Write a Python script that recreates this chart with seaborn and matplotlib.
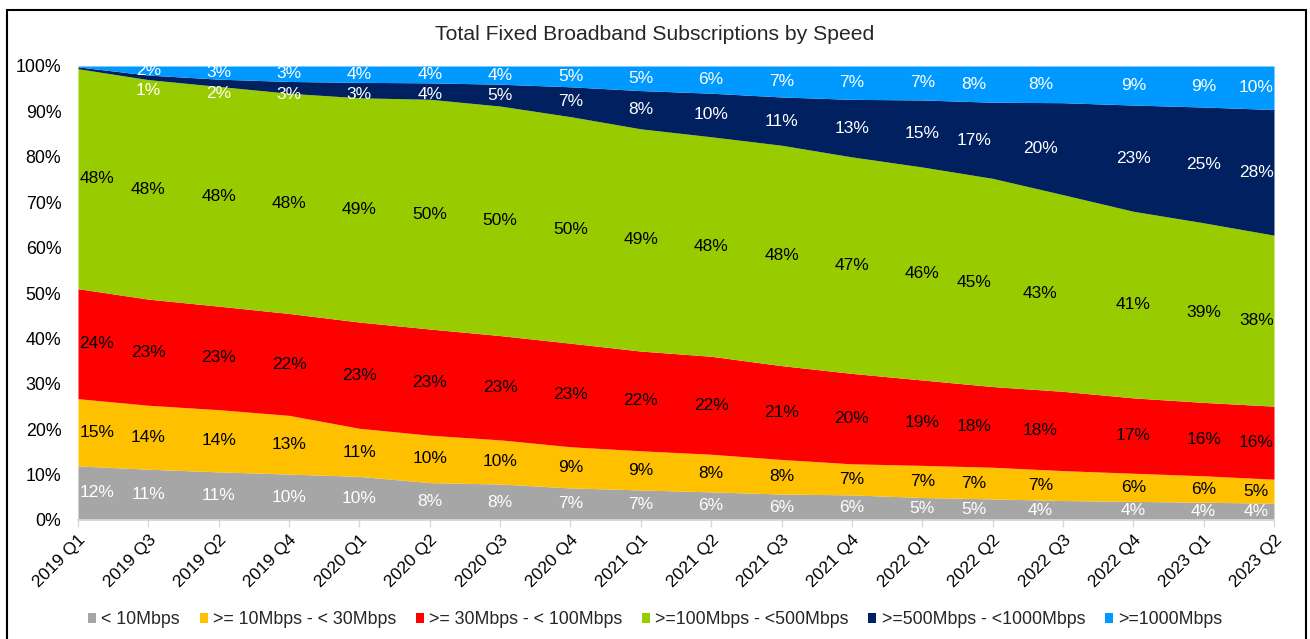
import numpy as np
import matplotlib
matplotlib.use("Agg")
import matplotlib.pyplot as plt
from matplotlib.patches import Patch, Rectangle
import seaborn as sns

# 数据 (从图中读取, 单位 %)
quarters = ["2019 Q1", "2019 Q3", "2019 Q2", "2019 Q4", "2020 Q1", "2020 Q2",
            "2020 Q3", "2020 Q4", "2021 Q1", "2021 Q2", "2021 Q3", "2021 Q4",
            "2022 Q1", "2022 Q2", "2022 Q3", "2022 Q4", "2023 Q1", "2023 Q2"]
series_names = ["< 10Mbps", ">= 10Mbps - < 30Mbps", ">= 30Mbps - < 100Mbps",
                ">=100Mbps - <500Mbps", ">=500Mbps - <1000Mbps", ">=1000Mbps"]
below_10 = [11.9, 11.2, 10.6, 10.1, 9.6, 8.2, 7.9, 7.1, 6.6, 6.2, 5.7, 5.5,
            4.9, 4.6, 4.3, 4.1, 3.9, 3.7]
from_10_to_30 = [14.8, 14.1, 13.7, 12.9, 10.6, 10.4, 9.7, 9.1, 8.6, 8.3, 7.6, 6.8,
                 7.0, 6.9, 6.6, 6.2, 5.8, 5.3]
from_30_to_100 = [24.2, 23.4, 22.8, 22.4, 23.4, 23.3, 22.9, 22.9, 21.9, 21.6, 20.6, 19.8,
                  18.6, 17.6, 17.5, 16.6, 16.1, 16.1]
from_100_to_500 = [48.4, 48.4, 48.4, 48.4, 49.4, 50.4, 50.4, 50.1, 48.8, 48.4, 48.4, 47.4,
                   46.4, 45.4, 43.4, 41.1, 39.4, 37.7]
from_500_to_1000 = [0.4, 1.0, 1.6, 2.6, 3.4, 3.6, 4.8, 6.6, 8.4, 9.6, 10.6, 12.6,
                    14.6, 16.6, 20.3, 23.4, 25.4, 27.7]
above_1000 = [0.2, 2.0, 2.9, 3.4, 3.6, 3.7, 4.0, 4.6, 5.4, 6.0, 6.8, 7.3,
              7.4, 7.9, 8.1, 8.6, 9.0, 9.6]

colors = ["#A6A6A6", "#FFC000", "#FF0000", "#99CC00", "#002060", "#0099FF"]
label_colors = ["white", "black", "black", "black", "white", "white"]
# 标签水平微调 (Excel 的标签位置)
label_dx = {0: 0.27, 13: -0.27, 14: -0.32, 17: -0.25}

sns.set_theme(style="white")
plt.rcParams['font.family'] = ['Liberation Sans', 'DejaVu Sans']

values = np.array([below_10, from_10_to_30, from_30_to_100,
                   from_100_to_500, from_500_to_1000, above_1000], dtype=float)
# 100% 堆积
shares = values / values.sum(axis=0) * 100
x = np.arange(len(quarters))

fig = plt.figure(figsize=(13.1, 6.39), dpi=100)
ax = fig.add_axes([78 / 1310, 1 - 520 / 639, (1274 - 78) / 1310, (520 - 66) / 639])

ax.stackplot(x, shares, colors=sns.color_palette(colors), linewidth=0)

# 数据标签 (放在每个色带的中间)
tops = shares.cumsum(axis=0)
bottoms = tops - shares
mids = (tops + bottoms) / 2
for j in range(len(quarters)):
    xp = x[j] + label_dx.get(j, 0)
    for i in range(len(series_names)):
        if values[i, j] < 0.5:
            continue
        y = mids[i, j]
        if i == 4:
            # 避免和上面的标签重叠
            y = min(y, mids[5, j] - 4.5)
        ax.text(xp, y, f"{values[i, j]:.0f}%", ha="center", va="center",
                fontsize=12.5, color=label_colors[i])

ax.set_xlim(0, len(quarters) - 1)
ax.set_ylim(0, 100)
ax.set_yticks(np.arange(0, 101, 10))
ax.set_yticklabels([f"{v}%" for v in range(0, 101, 10)])
ax.set_xticks(x)
ax.set_xticklabels(quarters, rotation=45, ha="right", rotation_mode="anchor")
ax.tick_params(axis="y", length=0, pad=12, labelsize=12.8, labelcolor="black")
ax.tick_params(axis="x", length=5, width=1, color="#D9D9D9", direction="out",
               pad=4, labelsize=12.5, labelcolor="black", bottom=True)
for s in ["left", "top", "right"]:
    ax.spines[s].set_visible(False)
ax.spines["bottom"].set_color("#D9D9D9")
ax.grid(False)

fig.text(655 / 1310, 1 - 35 / 639, "Total Fixed Broadband Subscriptions by Speed",
         ha="center", va="center", fontsize=15.2)

handles = [Patch(facecolor=c, edgecolor="none") for c in colors]
fig.legend(handles, series_names, loc="center", bbox_to_anchor=(655 / 1310, 1 - 620 / 639),
           ncol=6, frameon=False, fontsize=12.8, handlelength=0.45, handleheight=0.45,
           handletextpad=0.3, columnspacing=1.1)

# 外框
fig.patches.append(Rectangle((7 / 1310, -0.05), (1306 - 7) / 1310, 1 - 10 / 639 + 0.05,
                             transform=fig.transFigure, fill=False,
                             edgecolor="black", linewidth=1.5))

fig.savefig("out.png", dpi=100)
